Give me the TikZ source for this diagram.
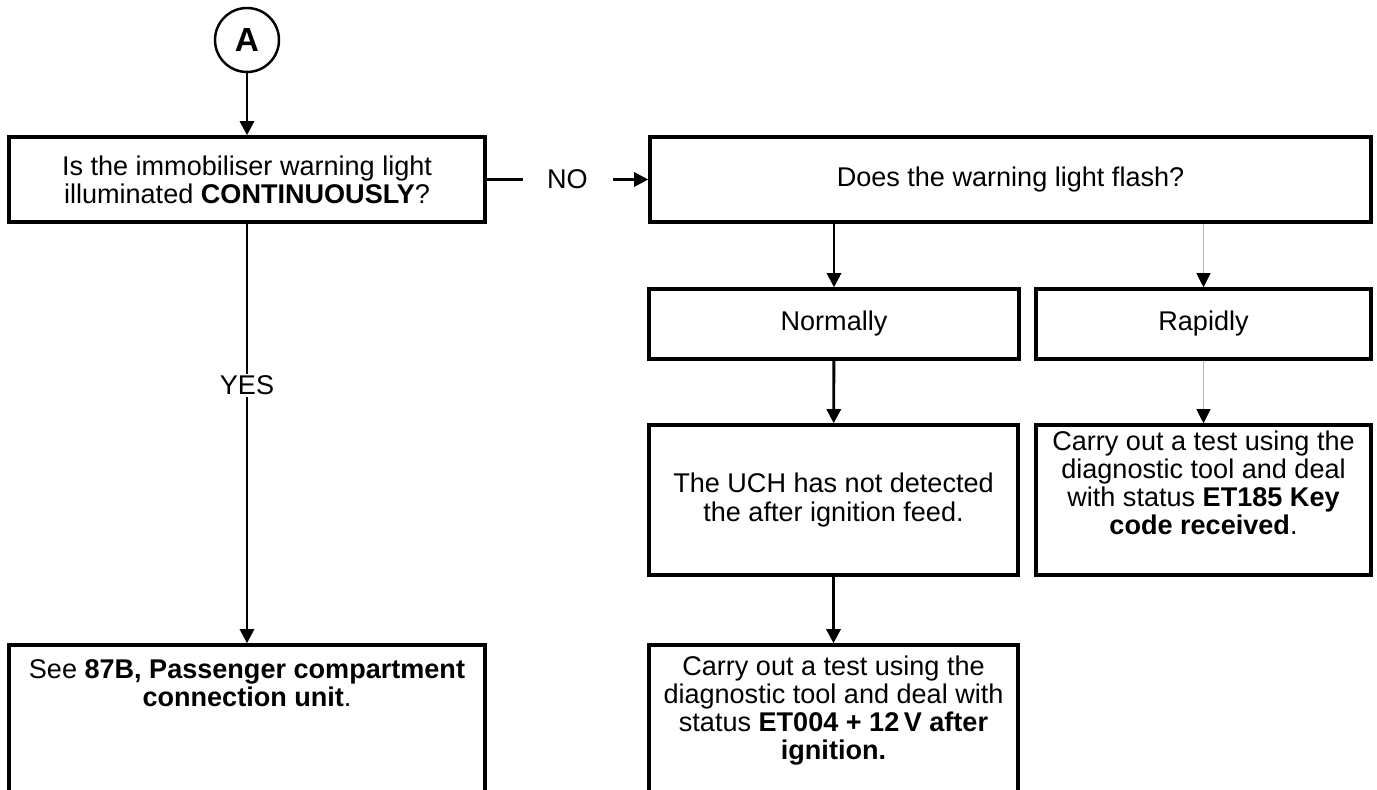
\documentclass[tikz,border=0pt]{standalone}
\usepackage{fontspec}
\setmainfont{Liberation Sans}
\usepackage{tikz}
\usetikzlibrary{arrows.meta,positioning}
\definecolor{Ink}{HTML}{000000}
\definecolor{Faint}{HTML}{B4B4B4}

\begin{document}
\begin{tikzpicture}[
  box/.style={draw=Ink,line width=2pt,align=center,inner sep=0pt,font=\fontsize{15.4pt}{16pt}\selectfont},
  txt/.style={align=center,inner sep=0pt,font=\fontsize{15.4pt}{16pt}\selectfont},
  conn/.style={draw=Ink,circle,line width=1.4pt,minimum size=1.28cm,inner sep=0pt,font=\bfseries\fontsize{19pt}{20pt}\selectfont},
  arr/.style={-{Triangle[width=8pt,length=8pt]},line width=1.6pt,color=Ink},
  faint/.style={-{Triangle[width=8pt,length=8pt,color=Ink]},line width=0.5pt,color=Faint}
]
\useasboundingbox (0,0) rectangle (27.54,-15.8);
\clip (0,0) rectangle (27.54,-15.8);

\node[conn] (A) at (4.94,-0.8) {A};
\node[box,minimum width=9.52cm,minimum height=1.7cm] (q1) at (4.94,-3.59) {Is the immobiliser warning light\\illuminated \textbf{CONTINUOUSLY}?};
\node[box,minimum width=14.42cm,minimum height=1.7cm] (q2) at (20.21,-3.59) {Does the warning light flash?};

\node[box,minimum width=7.4cm,minimum height=1.4cm] (norm) at (16.68,-6.48) {Normally};
\node[box,minimum width=6.7cm,minimum height=1.4cm] (rapid) at (24.07,-6.48) {Rapidly};

\node[box,minimum width=7.38cm,minimum height=3cm] (uch) at (16.67,-10) {The UCH has not detected\\the after ignition feed.};
\node[box,minimum width=6.7cm,minimum height=3cm] (keyc) at (24.07,-10) {};
\node[txt,below=1.4mm of keyc.north] (keyct) {Carry out a test using the\\diagnostic tool and deal\\with status \textbf{ET185 Key}\\\textbf{code received}.};

% open-ended boxes at the foot
\node[box,minimum width=7.38cm,minimum height=4cm] (ign) at (16.67,-14.9) {};
\node[txt,below=2.4mm of ign.north] (ignt) {Carry out a test using the\\diagnostic tool and deal with\\status \textbf{ET004 + 12\,V after}\\\textbf{ignition.}};
\node[box,minimum width=9.52cm,minimum height=4cm] (see) at (4.94,-14.9) {};
\node[txt,below=3.2mm of see.north] (seet) {See \textbf{87B, Passenger compartment}\\\textbf{connection unit}.};

\draw[arr] (A)--(q1);
\draw[arr] (q1.south) -- node[pos=0.385,fill=white,inner sep=1pt,font=\fontsize{15.4pt}{16pt}\selectfont] {YES} (see.north);
\draw[arr] (q1.east) -- node[fill=white,minimum width=1.8cm,inner sep=0pt,font=\fontsize{15.4pt}{16pt}\selectfont] {NO} (q2.west);
\draw[arr] (norm.north |- q2.south)--(norm.north);
\draw[faint] (rapid.north |- q2.south)--(rapid.north);
\draw[arr] (norm)--(uch);
\draw[faint] (rapid)--(keyc);
\draw[arr] (uch)--(ign);
\end{tikzpicture}
\end{document}
